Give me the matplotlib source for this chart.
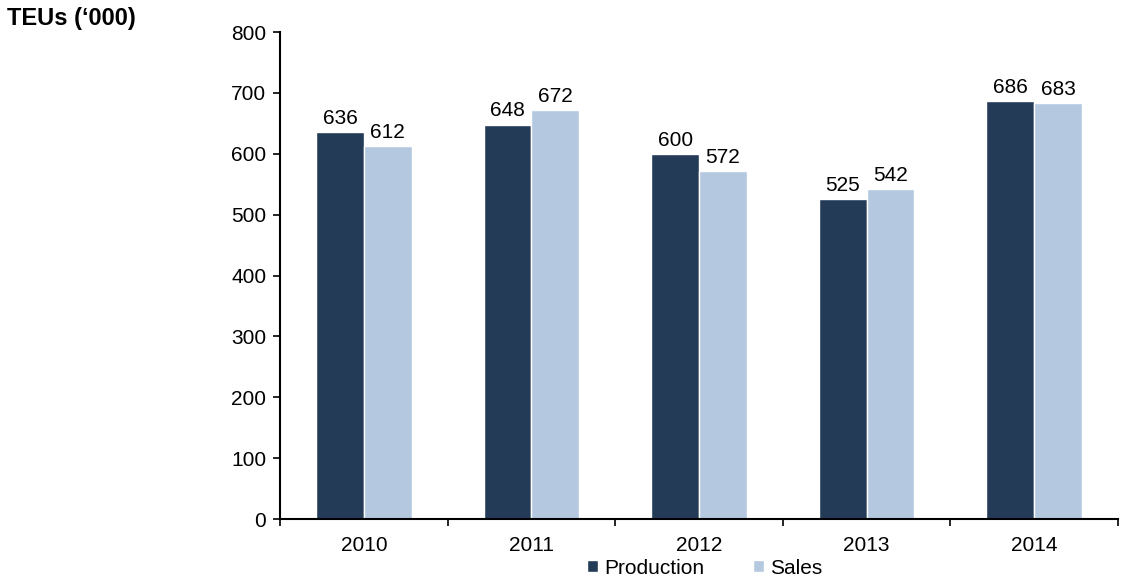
import matplotlib.pyplot as plt
import numpy as np

plt.rcParams['font.family'] = ['Liberation Sans', 'DejaVu Sans']

years = ["2010", "2011", "2012", "2013", "2014"]
production = [636, 648, 600, 525, 686]
sales = [612, 672, 572, 542, 683]

dark = "#243b58"
light = "#b4c9e0"
fs = 15

fig = plt.figure(figsize=(11.22, 5.82), dpi=100)
ax = fig.add_axes([0.2496, 0.1082, 0.7468, 0.8368])

x = np.arange(len(years))
w = 0.285
b1 = ax.bar(x - w / 2, production, w, color=dark, edgecolor="white", linewidth=1, label="Production")
b2 = ax.bar(x + w / 2, sales, w, color=light, edgecolor="white", linewidth=1, label="Sales")
ax.bar_label(b1, padding=3, fontsize=fs)
ax.bar_label(b2, padding=3, fontsize=fs)

ax.set_xlim(-0.5, len(years) - 0.5)
ax.set_ylim(0, 800)
ax.set_yticks(range(0, 801, 100))
ax.set_xticks(x)
ax.set_xticklabels(years)
ax.set_xticks(np.arange(-0.5, len(years)), minor=True)
ax.tick_params(axis="x", which="major", length=0, labelsize=fs, pad=12)
ax.tick_params(axis="x", which="minor", length=5, width=1.2)
ax.tick_params(axis="y", length=5, width=1.2, labelsize=fs, pad=5)
for s in ["top", "right"]:
    ax.spines[s].set_visible(False)
ax.spines["left"].set_linewidth(1.5)
ax.spines["bottom"].set_linewidth(1.5)

fig.text(0.006, 0.969, "TEUs (\u2018000)", fontsize=17, fontweight="bold", va="center")

fig.legend(loc="center", bbox_to_anchor=(0.628, 0.024), ncol=2, frameon=False,
           fontsize=fs, handlelength=0.55, handleheight=0.55, columnspacing=2.3, handletextpad=0.3)

fig.savefig("out.png", dpi=100)
